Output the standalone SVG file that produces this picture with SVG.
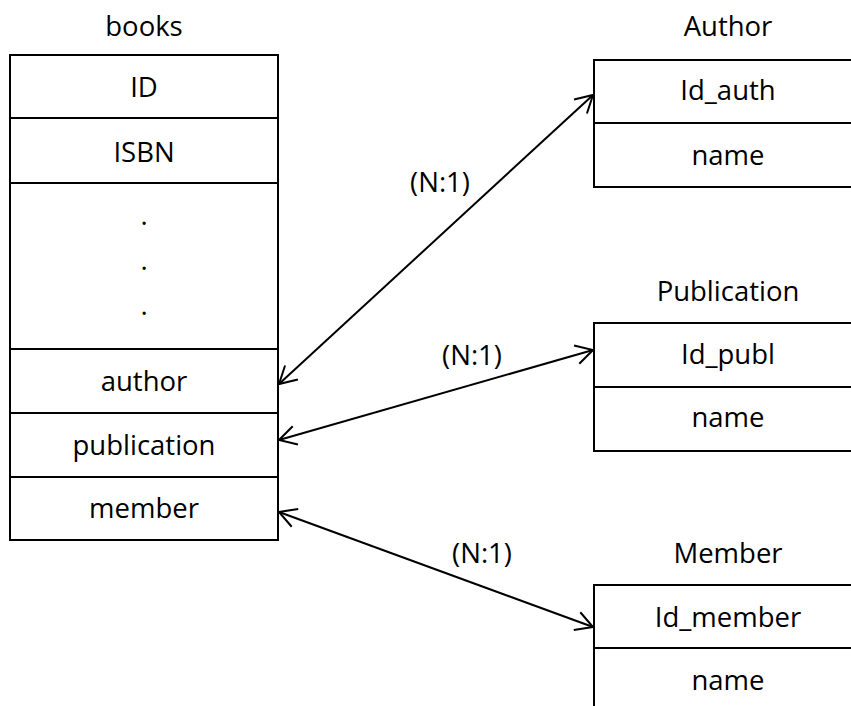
<svg xmlns="http://www.w3.org/2000/svg" width="851" height="706" viewBox="0 0 851 706">
<style>
  .box{fill:#fff;stroke:#000;stroke-width:2}
  .sep{stroke:#000;stroke-width:2}
  text{font-family:"Open Sans","Noto Sans",sans-serif;font-size:27.5px;fill:#000;text-anchor:middle}
  .conn{stroke:#000;stroke-width:2;fill:none;marker-start:url(#ah);marker-end:url(#ah)}
</style>
<defs>
  <marker id="ah" markerUnits="userSpaceOnUse" viewBox="-20 -12 22 24" refX="0" refY="0" markerWidth="22" markerHeight="24" orient="auto-start-reverse" overflow="visible">
    <path d="M-17,-9.5 L0,0 L-17,9.5" fill="none" stroke="#000" stroke-width="2"/>
  </marker>
</defs>
<rect width="851" height="706" fill="#fff"/>
<g id="books">
  <text x="144" y="36">books</text>
  <rect class="box" x="10" y="55" width="268" height="485"/>
  <line class="sep" x1="10" y1="118" x2="278" y2="118"/>
  <line class="sep" x1="10" y1="183" x2="278" y2="183"/>
  <line class="sep" x1="10" y1="349" x2="278" y2="349"/>
  <line class="sep" x1="10" y1="413" x2="278" y2="413"/>
  <line class="sep" x1="10" y1="477" x2="278" y2="477"/>
  <text x="144" y="97">ID</text>
  <text x="144" y="162">ISBN</text>
  <text x="144" y="225">.</text>
  <text x="144" y="270">.</text>
  <text x="144" y="315">.</text>
  <text x="144" y="391">author</text>
  <text x="144" y="455">publication</text>
  <text x="144" y="518">member</text>
</g>
<g id="author">
  <text x="728" y="36">Author</text>
  <rect class="box" x="594" y="60" width="268" height="127"/>
  <line class="sep" x1="594" y1="123" x2="862" y2="123"/>
  <text x="728" y="100">Id_auth</text>
  <text x="728" y="165">name</text>
</g>
<g id="publication">
  <text x="728" y="301">Publication</text>
  <rect class="box" x="594" y="323" width="268" height="128"/>
  <line class="sep" x1="594" y1="387" x2="862" y2="387"/>
  <text x="728" y="364">Id_publ</text>
  <text x="728" y="427">name</text>
</g>
<g id="member">
  <text x="728" y="563">Member</text>
  <rect class="box" x="594" y="585" width="268" height="128"/>
  <line class="sep" x1="594" y1="648" x2="862" y2="648"/>
  <text x="728" y="627">Id_member</text>
  <text x="728" y="690">name</text>
</g>
<g id="connectors">
  <line class="conn" x1="279" y1="384" x2="593" y2="95"/>
  <line class="conn" x1="279" y1="440" x2="593" y2="350"/>
  <line class="conn" x1="279" y1="512" x2="593" y2="627"/>
  <text x="440" y="192">(N:1)</text>
  <text x="472" y="365">(N:1)</text>
  <text x="482" y="563">(N:1)</text>
</g>
</svg>
